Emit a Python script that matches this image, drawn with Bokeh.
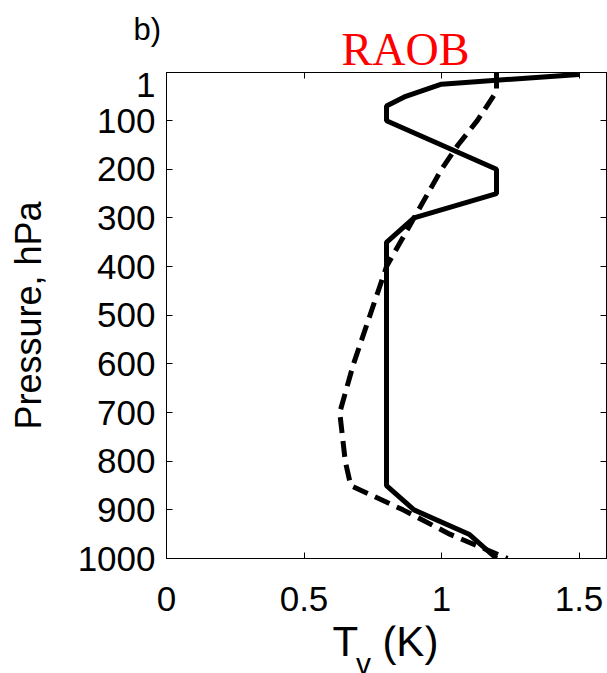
from bokeh.plotting import figure
from bokeh.models import Range1d, FixedTicker, LinearAxis, Label
from bokeh.layouts import column
from bokeh.embed import file_html
from bokeh.resources import INLINE

# ---- data ----
pressure_solid = [5, 25, 50, 70, 100, 200, 250, 300, 350, 850, 900, 950, 1000]
tv_solid = [1.5, 1.0, 0.87, 0.8, 0.8, 1.2, 1.2, 0.9, 0.8, 0.8, 0.9, 1.1, 1.2]

pressure_dash = [1, 40, 100, 150, 200, 250, 300, 350, 400, 450, 500, 600, 700, 800, 850, 900, 950, 1000]
tv_dash = [1.2, 1.2, 1.13, 1.06, 1.0, 0.95, 0.9, 0.85, 0.8, 0.77, 0.74, 0.68, 0.63, 0.65, 0.67, 0.86, 1.03, 1.24]

x_ticks = [0, 0.5, 1, 1.5]
x_tick_labels = ["0", "0.5", "1", "1.5"]
y_ticks = [1, 100, 200, 300, 400, 500, 600, 700, 800, 900, 1000]

panel_label = "b)"
title_text = "RAOB"
y_label = "Pressure, hPa"

FONT = "Liberation Sans"
W = 607
LEFT, RIGHT = 166, 1
PX = (W - LEFT - RIGHT) / 1.6      # pixels per x unit
XR = (-LEFT / PX, (W - LEFT) / PX)  # x range spanning the whole strip width

# ---- header strip (panel label and title) ----
head = figure(width=W, height=72, output_backend="svg", toolbar_location=None,
              x_range=Range1d(*XR), y_range=Range1d(72, 0),
              x_axis_location=None, y_axis_location=None, title_location=None,
              min_border_left=0, min_border_right=0, min_border_top=0, min_border_bottom=0,
              frame_align=False)
head.outline_line_color = None
head.grid.visible = False
head.add_layout(Label(x=-0.12, y=29, text=panel_label, text_font=FONT, text_font_size="31px",
                      text_color="black", text_baseline="alphabetic"))
head.add_layout(Label(x=0.869, y=49, text=title_text, text_font="Liberation Serif",
                      text_font_size="46px", text_color="#ff0000", text_align="center",
                      text_baseline="alphabetic"))

# ---- main chart ----
MAIN_H = 553
p = figure(width=W, height=MAIN_H, output_backend="svg", toolbar_location=None,
           x_range=Range1d(0, 1.6), y_range=Range1d(1000, 1), title_location=None,
           min_border_left=LEFT, min_border_right=RIGHT, min_border_top=0,
           min_border_bottom=MAIN_H - 486, frame_align=False)
p.grid.visible = False
p.outline_line_color = "black"
p.background_fill_color = "white"
p.border_fill_color = "white"

xa = p.xaxis[0]
ya = p.yaxis[0]
xa.ticker = FixedTicker(ticks=x_ticks)
xa.major_label_overrides = {t: l for t, l in zip(x_ticks, x_tick_labels)}
ya.ticker = FixedTicker(ticks=y_ticks)
for ax in (xa, ya):
    ax.major_tick_in = 6
    ax.major_tick_out = 0
    ax.minor_tick_line_color = None
    ax.major_label_text_font = FONT
    ax.major_label_text_font_size = "35px"
    ax.major_label_text_color = "black"
    ax.axis_line_color = "black"
    ax.major_tick_line_color = "black"
xa.major_label_standoff = 28
ya.major_label_standoff = 11
ya.axis_label = y_label
ya.axis_label_text_font = FONT
ya.axis_label_text_font_size = "36px"
ya.axis_label_text_font_style = "normal"
ya.axis_label_text_color = "black"
ya.axis_label_standoff = 26

top = LinearAxis(ticker=FixedTicker(ticks=x_ticks), major_label_text_font_size="0px",
                 major_tick_in=6, major_tick_out=0, minor_tick_line_color=None,
                 major_label_standoff=0)
right = LinearAxis(ticker=FixedTicker(ticks=y_ticks), major_label_text_font_size="0px",
                   major_tick_in=6, major_tick_out=0, minor_tick_line_color=None,
                   major_label_standoff=0)
p.add_layout(top, "above")
p.add_layout(right, "right")

p.line(tv_solid, pressure_solid, line_color="black", line_width=5)
p.line(tv_dash, pressure_dash, line_color="black", line_width=5, line_dash="16 8")

# ---- footer strip (x axis label with subscript) ----
FOOT_H = 673 - 72 - MAIN_H
foot = figure(width=W, height=FOOT_H, output_backend="svg", toolbar_location=None,
              x_range=Range1d(*XR), y_range=Range1d(673, 673 - FOOT_H),
              x_axis_location=None, y_axis_location=None, title_location=None,
              min_border_left=0, min_border_right=0, min_border_top=0, min_border_bottom=0,
              frame_align=False)
foot.outline_line_color = None
foot.grid.visible = False
foot.add_layout(Label(x=0.604, y=641, text="T", text_font=FONT, text_font_size="42px",
                      text_color="black", text_baseline="alphabetic"))
foot.add_layout(Label(x=0.689, y=663, text="v", text_font=FONT, text_font_size="30px",
                      text_color="black", text_baseline="alphabetic"))
foot.add_layout(Label(x=0.785, y=641, text="(K)", text_font=FONT, text_font_size="42px",
                      text_color="black", text_baseline="alphabetic"))

layout = column(head, p, foot, spacing=0)
open("out.html", "w").write(file_html(layout, INLINE))
